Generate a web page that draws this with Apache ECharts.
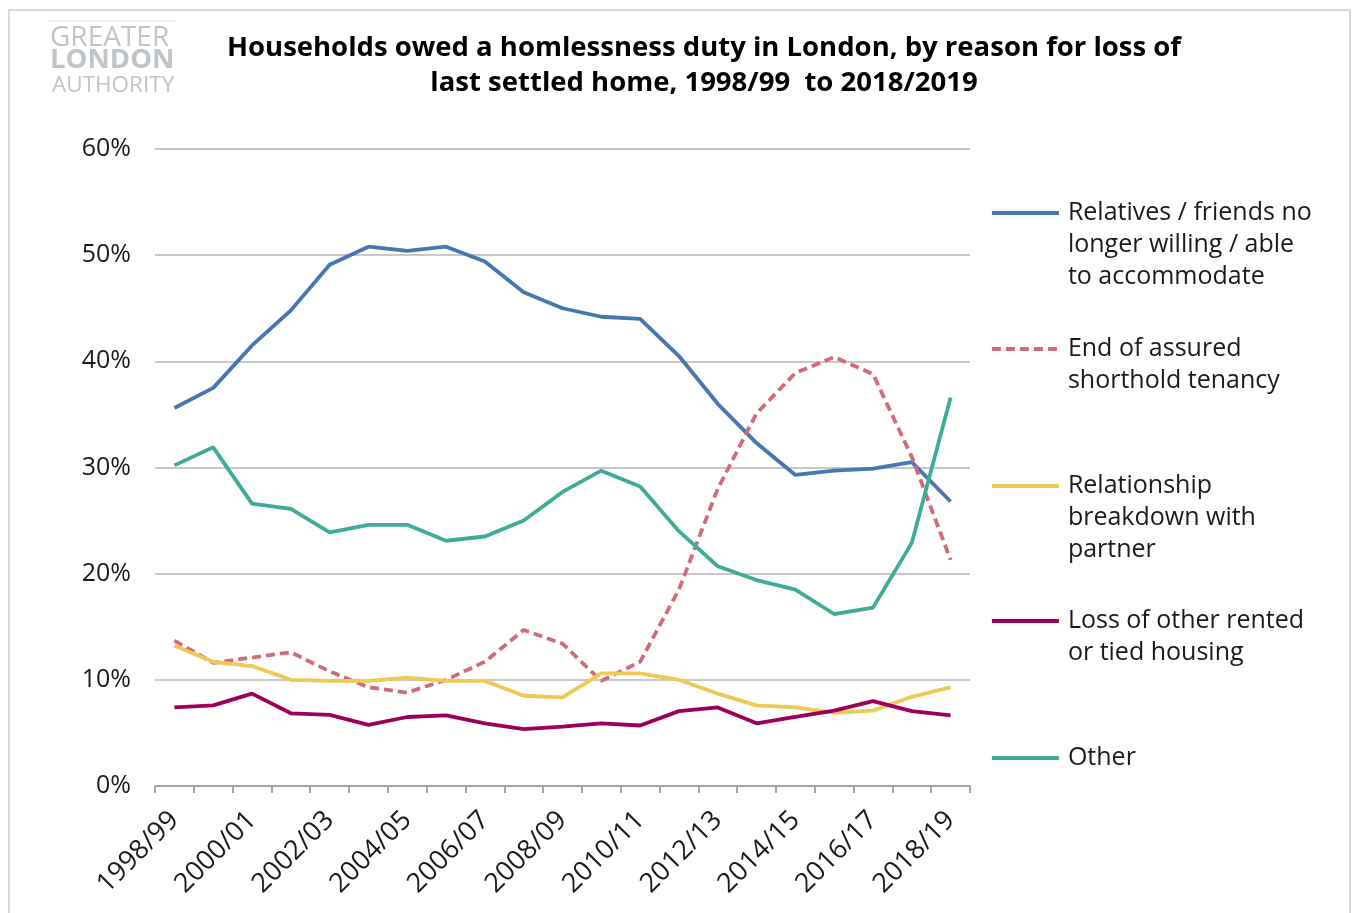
<!DOCTYPE html>
<html>
<head>
<meta charset="utf-8">
<script src="https://cdn.jsdelivr.net/npm/echarts@6/dist/echarts.min.js"></script>
<style>
  html, body { margin: 0; padding: 0; background: #fff; }
  #chart { width: 1354px; height: 913px; }
</style>
</head>
<body>
<div id="chart"></div>
<script>
// categories
var years = ['1998/99', '1999/00', '2000/01', '2001/02', '2002/03', '2003/04', '2004/05',
  '2005/06', '2006/07', '2007/08', '2008/09', '2009/10', '2010/11', '2011/12', '2012/13',
  '2013/14', '2014/15', '2015/16', '2016/17', '2017/18', '2018/19'];

// series values (% of households)
var relatives = [35.6, 37.5, 41.5, 44.8, 49.1, 50.8, 50.4, 50.8, 49.4, 46.5, 45.0,
  44.2, 44.0, 40.5, 36.0, 32.3, 29.3, 29.7, 29.9, 30.5, 26.8];
var assured = [13.7, 11.6, 12.1, 12.6, 10.8, 9.3, 8.8, 10.0, 11.7, 14.7, 13.4,
  9.9, 11.7, 18.5, 28.0, 35.1, 38.9, 40.4, 38.8, 31.0, 21.3];
var relationship = [13.2, 11.7, 11.3, 10.0, 9.9, 9.9, 10.2, 9.9, 9.9, 8.5, 8.35,
  10.6, 10.6, 10.0, 8.7, 7.6, 7.4, 6.9, 7.1, 8.4, 9.3];
var lossRented = [7.4, 7.6, 8.7, 6.85, 6.7, 5.75, 6.5, 6.65, 5.9, 5.35, 5.6,
  5.9, 5.7, 7.05, 7.4, 5.9, 6.5, 7.1, 8.0, 7.05, 6.65];
var other = [30.2, 31.9, 26.6, 26.1, 23.9, 24.6, 24.6, 23.1, 23.5, 25.0, 27.7,
  29.7, 28.2, 24.0, 20.7, 19.4, 18.5, 16.2, 16.8, 22.9, 36.6];

// series names (legend text)
var names = [
  'Relatives / friends no\nlonger willing / able\nto accommodate',
  'End of assured\nshorthold tenancy',
  'Relationship\nbreakdown with\npartner',
  'Loss of other rented\nor tied housing',
  'Other'
];

var fontFam = '"Open Sans", sans-serif';
var lineH = 32;

var chart = echarts.init(document.getElementById('chart'));

// one legend per item so each can sit at its own height;
// leading blank lines push the first text line onto the icon
var iconY = [213, 349, 486, 621, 758];
var legends = names.map(function (n, i) {
  var lines = n.split('\n').length;
  return {
    data: [n],
    orient: 'vertical',
    left: 990,
    top: iconY[i] - (lines - 1) * lineH - lineH / 2,
    padding: 0,
    itemWidth: 67,
    itemHeight: 4,
    itemGap: 0,
    itemStyle: { opacity: 0 },
    lineStyle: { width: 3.8 },
    formatter: function (name) {
      var pad = '';
      for (var k = 1; k < lines; k++) pad += ' \n';
      return pad + name;
    },
    textStyle: {
      fontFamily: fontFam,
      fontSize: 25,
      color: '#1a1a1a',
      lineHeight: lineH,
      padding: [0, 0, 0, 4]
    }
  };
});

function lineSeries(name, data, color, dashed) {
  return {
    name: name,
    type: 'line',
    data: data,
    symbol: 'none',
    smooth: false,
    lineStyle: { color: color, width: 3.8, type: dashed ? [9, 5] : 'solid' },
    itemStyle: { color: color }
  };
}

chart.setOption({
  backgroundColor: '#fff',
  title: {
    text: 'Households owed a homlessness duty in London, by reason for loss of\nlast settled home, 1998/99  to 2018/2019',
    left: 699,
    top: 26,
    textAlign: 'center',
    textStyle: {
      fontFamily: fontFam,
      fontSize: 27.5,
      fontWeight: 'bold',
      color: '#000',
      lineHeight: 35
    }
  },
  graphic: [
    {
      type: 'rect',
      shape: { x: 9, y: 10, width: 1341, height: 920 },
      style: { fill: 'none', stroke: '#d9d9d9', lineWidth: 2 },
      silent: true
    },
    {
      type: 'line',
      shape: { x1: 48, y1: 21, x2: 177, y2: 21 },
      style: { stroke: '#e3e6e8', lineWidth: 1 }
    },
    {
      type: 'text', x: 50, y: 38,
      style: { text: 'GREATER', fill: '#bfc4c8', font: '400 28px "Open Sans", sans-serif', verticalAlign: 'middle' }
    },
    {
      type: 'text', x: 50, y: 60,
      style: { text: 'LONDON', fill: '#bfc4c8', font: 'bold 27.5px "Open Sans", sans-serif', verticalAlign: 'middle' }
    },
    {
      type: 'text', x: 52, y: 86,
      style: { text: 'AUTHORITY', fill: '#bfc4c8', font: '400 22.5px "Open Sans", sans-serif', verticalAlign: 'middle' }
    }
  ],
  legend: legends,
  grid: { left: 155, right: 384, top: 149, bottom: 127, containLabel: false },
  xAxis: {
    type: 'category',
    data: years,
    boundaryGap: true,
    axisLine: { lineStyle: { color: '#a6a6a6', width: 2 } },
    axisTick: { show: true, interval: 0, length: 7, lineStyle: { color: '#a6a6a6', width: 2 } },
    axisLabel: {
      interval: 1,
      rotate: 45,
      margin: 30,
      fontFamily: fontFam,
      fontSize: 27,
      color: '#1a1a1a'
    },
    splitLine: { show: false }
  },
  yAxis: {
    type: 'value',
    min: 0,
    max: 60,
    interval: 10,
    axisLine: { show: false },
    axisTick: { show: false },
    axisLabel: {
      formatter: '{value}%',
      margin: 24,
      fontFamily: fontFam,
      fontSize: 25,
      color: '#1a1a1a'
    },
    splitLine: { lineStyle: { color: '#c8c8c8', width: 2 } }
  },
  series: [
    lineSeries(names[0], relatives, '#4677b0', false),
    lineSeries(names[1], assured, '#d26a7a', true),
    lineSeries(names[2], relationship, '#efc955', false),
    lineSeries(names[3], lossRented, '#9c0058', false),
    lineSeries(names[4], other, '#40ab98', false)
  ]
});
</script>
</body>
</html>
